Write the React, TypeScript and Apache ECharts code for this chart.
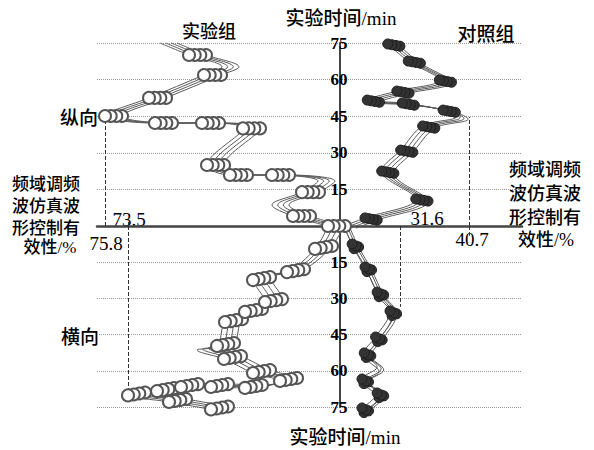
import React, { useEffect, useRef } from 'react';
import * as echarts from 'echarts';

// time ticks (min)
const timeTicks = [0, 15, 30, 45, 60, 75];

// [effectiveness %, time min, marker shown 1 / hidden 0]
const expLongitudinal = [
  [79.0, 75.0, 0], [81.9, 70.1, 1], [85.2, 65.2, 0], [83.4, 61.9, 1], [77.9, 52.5, 1],
  [73.5, 45.1, 1], [78.5, 42.2, 1], [83.2, 42.2, 1], [87.3, 40.0, 1], [83.7, 25.0, 1],
  [86.0, 20.9, 1], [90.2, 20.9, 1], [94.8, 18.4, 0], [93.2, 13.9, 1], [90.2, 8.6, 0],
  [92.3, 4.1, 1], [95.8, 0.0, 1],
];
const expTransverse = [
  [95.8, 0.0, 0], [94.5, 9.5, 1], [91.7, 19.1, 1], [88.3, 22.4, 1], [89.5, 31.5, 1],
  [87.5, 35.6, 1], [85.5, 39.8, 1], [84.7, 49.7, 1], [82.7, 51.4, 0], [85.4, 55.1, 1],
  [88.3, 60.9, 1], [91.0, 64.2, 1], [87.5, 67.1, 1], [84.1, 66.7, 1], [81.1, 66.7, 1],
  [78.7, 68.4, 1], [75.8, 70.2, 1], [79.9, 72.9, 1], [84.1, 76.0, 1],
];
const ctrlLongitudinal = [
  [30.0, 74.6, 1], [32.7, 67.6, 1], [36.8, 59.8, 1], [31.2, 55.3, 1], [27.3, 51.6, 1],
  [31.9, 50.4, 1], [37.3, 47.5, 1], [39.0, 44.7, 0], [34.6, 41.0, 1], [31.7, 31.1, 1],
  [29.2, 22.5, 1], [33.7, 11.1, 1], [27.0, 3.3, 1], [24.2, 0.0, 0],
];
const ctrlTransverse = [
  [24.2, 0.0, 0], [25.3, 7.5, 1], [27.0, 17.0, 1], [28.6, 27.4, 1], [30.3, 35.2, 1],
  [28.4, 46.0, 1], [26.9, 52.6, 1], [28.6, 58.4, 0], [26.6, 63.4, 1], [28.6, 69.2, 1],
  [26.6, 75.4, 1],
];

// repeated-trial shifts [d effectiveness, d time]
const expShiftUp = [[0, 0], [0.57, 0], [1.13, 0], [1.7, 0]];
const expShiftDown = [[0, 0], [0.57, -0.4], [1.13, -0.8], [1.7, -1.2]];
const ctrlShiftUp = [[0, 0], [0.53, -0.3], [1.06, -0.6], [1.6, -0.9]];
const ctrlShiftDown = [[0, 0], [0.53, 0.8], [0.26, 1.9], [0.86, 1.2]];

// marked values: [value, time reached]
const markExpUp = [73.5, 42.5];
const markExpDown = [75.8, 67.5];
const markCtrlUp = [40.7, 44.7];
const markCtrlDown = [31.6, 33.5];

const sideLabel = ['频域调频', '波仿真波', '形控制有', '效性/%'];

const CJK = "'Noto Sans CJK SC', sans-serif";
const MIXED = "'Liberation Serif', 'Noto Sans CJK SC', serif";
const NUM = "'Liberation Serif', serif";

function buildSeries(points, shifts, idx, kind, marks) {
  const white = kind === 'exp';
  const list = shifts.map((s, k) => ({
    type: 'line',
    xAxisIndex: idx,
    yAxisIndex: idx,
    smooth: 0.35,
    clip: false,
    silent: true,
    symbol: 'circle',
    symbolSize: white ? 12 : 10,
    itemStyle: white
      ? { color: '#ffffff', borderColor: '#555555', borderWidth: 2 }
      : { color: '#333333', borderColor: '#1e1e1e', borderWidth: 1 },
    lineStyle: { color: '#5a5a5a', width: 1 },
    data: points.map((p) => ({
      value: [p[0] + s[0], p[1] + s[1]],
      symbol: p[2] ? 'circle' : 'none',
    })),
    markLine: k === 0 && marks ? {
      silent: true,
      symbol: ['none', 'none'],
      label: { show: false },
      lineStyle: { type: 'dashed', color: '#333', width: 1 },
      data: marks,
    } : undefined,
  }));
  return list.reverse();
}

const yAxisOf = (gi, inverse, position, showLine) => ({
  type: 'value', gridIndex: gi, min: timeTicks[0], max: timeTicks[timeTicks.length - 1],
  interval: timeTicks[1] - timeTicks[0], inverse, position,
  axisLine: { show: showLine, onZero: false, lineStyle: { color: '#444', width: 2 } },
  axisTick: { show: false },
  axisLabel: {
    show: showLine, align: 'center', margin: 1, fontSize: 17, fontWeight: 'bold',
    fontFamily: NUM, color: '#000',
    formatter: (v) => (v === 0 ? '' : String(v)),
  },
  splitLine: { show: true, showMinLine: false, lineStyle: { type: 'dotted', color: '#999', width: 1 } },
});

const xAxisOf = (gi, min, max, showLine) => ({
  type: 'value', gridIndex: gi, min, max,
  axisLine: { show: showLine, onZero: false, lineStyle: { color: '#444', width: 2.5 } },
  axisTick: { show: false }, axisLabel: { show: false }, splitLine: { show: false },
});

const txt = (text, x, y, size, family, weight = 'normal') => ({
  type: 'text', x, y, silent: true,
  style: {
    text, fontSize: size, fontFamily: family, fontWeight: weight, fill: '#000',
    textAlign: 'center', textVerticalAlign: 'middle', align: 'center', verticalAlign: 'middle',
  },
});

export default function App() {
  const ref = useRef(null);
  useEffect(() => {
    const chart = echarts.init(ref.current, null, { renderer: 'svg' });
    const option = {
      animation: false,
      backgroundColor: '#ffffff',
      grid: [
        { left: 97, top: 43, width: 243, height: 183, outerBoundsMode: 'none' },
        { left: 340, top: 43, width: 182, height: 183, outerBoundsMode: 'none' },
        { left: 97, top: 226, width: 243, height: 181, outerBoundsMode: 'none' },
        { left: 340, top: 226, width: 182, height: 181, outerBoundsMode: 'none' },
      ],
      xAxis: [
        xAxisOf(0, 72.7, 97.0, true),
        xAxisOf(1, 23.7, 47.7, true),
        xAxisOf(2, 72.7, 97.0, false),
        xAxisOf(3, 23.7, 47.7, false),
      ],
      yAxis: [
        yAxisOf(0, false, 'right', false),
        yAxisOf(1, false, 'left', true),
        yAxisOf(2, true, 'right', false),
        yAxisOf(3, true, 'left', true),
      ],
      series: [
        ...buildSeries(expLongitudinal, expShiftUp, 0, 'exp', [
          [{ coord: [markExpUp[0], 0] }, { coord: [markExpUp[0], markExpUp[1]] }],
          [{ coord: [markExpDown[0], 0] }, { coord: [markExpDown[0], 3.3] }],
        ]),
        ...buildSeries(expTransverse, expShiftDown, 2, 'exp', [
          [{ coord: [markExpDown[0], 0] }, { coord: [markExpDown[0], markExpDown[1]] }],
        ]),
        ...buildSeries(ctrlLongitudinal, ctrlShiftUp, 1, 'ctrl', [
          [{ coord: [markCtrlUp[0], 0] }, { coord: [markCtrlUp[0], markCtrlUp[1]] }],
        ]),
        ...buildSeries(ctrlTransverse, ctrlShiftDown, 3, 'ctrl', [
          [{ coord: [markCtrlDown[0], 0] }, { coord: [markCtrlDown[0], markCtrlDown[1]] }],
          [{ coord: [markCtrlUp[0], 0] }, { coord: [markCtrlUp[0], 4] }],
        ]),
      ],
      graphic: [
        txt('实验时间/min', 341, 18, 19, MIXED, 500),
        txt('实验时间/min', 345, 437, 19, MIXED, 500),
        txt('实验组', 209, 30, 18, CJK, 500),
        txt('对照组', 486, 32, 19, CJK, 500),
        txt('纵向', 79, 116, 19, CJK, 500),
        txt('横向', 80, 335, 19, CJK, 500),
        txt(sideLabel[0], 46, 184, 17, MIXED, 500),
        txt(sideLabel[1], 46, 206, 17, MIXED, 500),
        txt(sideLabel[2], 46, 228, 17, MIXED, 500),
        txt(sideLabel[3], 50, 247, 17, MIXED, 500),
        txt(sideLabel[0], 545, 170, 18, MIXED, 500),
        txt(sideLabel[1], 545, 194, 18, MIXED, 500),
        txt(sideLabel[2], 545, 218, 18, MIXED, 500),
        txt(sideLabel[3], 546, 240, 18, MIXED, 500),
        txt(String(markExpUp[0]), 129, 219, 19, NUM),
        txt(String(markExpDown[0]), 106, 243, 19, NUM),
        txt(String(markCtrlDown[0]), 427, 218, 19, NUM),
        txt(String(markCtrlUp[0]), 472, 239, 19, NUM),
      ],
    };
    chart.setOption(option);
    return () => chart.dispose();
  }, []);
  return (
    <div
      ref={ref}
      style={{ position: 'fixed', left: 0, top: 0, width: 594, height: 450, background: '#fff' }}
    />
  );
}
